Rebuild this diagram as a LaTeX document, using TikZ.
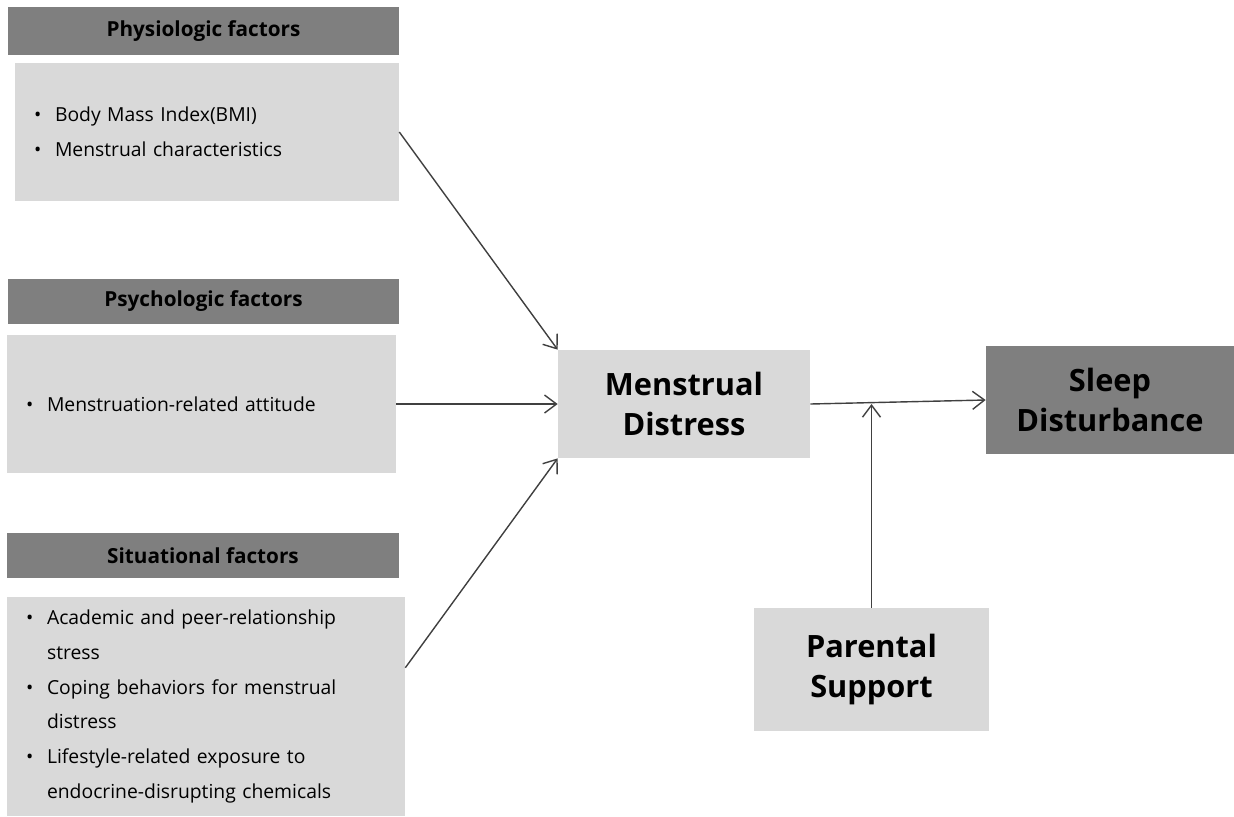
\documentclass[tikz,border=0pt]{standalone}
\usepackage{fontspec}
\setmainfont{Open Sans}
\usetikzlibrary{arrows.meta}
\definecolor{boxdark}{HTML}{7F7F7F}
\definecolor{boxlight}{HTML}{D9D9D9}
\definecolor{linegray}{HTML}{404040}
\newcommand{\bul}{\makebox[0.42cm][l]{\textbullet}}
\begin{document}
\begin{tikzpicture}[x=0.02cm, y=-0.02cm,
    head/.style = {fill=boxdark, font=\bfseries\fontsize{11.8}{14}\selectfont, minimum height=0.9cm},
    items/.style = {fill=boxlight, align=left, inner xsep=0.38cm, font=\fontsize{11}{19.8}\selectfont},
    main/.style = {fill=boxlight, align=center, font=\bfseries\fontsize{17.5}{22.7}\selectfont},
    arr/.style = {draw=linegray, line width=0.8pt, -{Straight Barb[length=2.4mm, width=3.6mm]}}]
    \useasboundingbox (0,0) rectangle (1234,816);

    % factor boxes
    \node[head, minimum width=7.82cm, minimum height=0.96cm] (phys) at (203.5, 31) {Physiologic factors};
    \node[items, text width=6.92cm, minimum height=2.76cm] (physbody) at (207, 132)
        {\bul Body Mass Index(BMI)\\ \bul Menstrual characteristics};

    \node[head, minimum width=7.82cm] (psy) at (203.5, 301.5) {Psychologic factors};
    \node[items, text width=7.02cm, minimum height=2.76cm] (psybody) at (201.5, 404)
        {\bul Menstruation-related attitude};

    \node[head, minimum width=7.84cm] (sit) at (203, 555.5) {Situational factors};
    \node[items, text width=7.2cm, minimum height=4.38cm] (sitbody) at (206, 706.5)
        {\bul Academic and peer-relationship\\ \hspace*{0.42cm}stress\\
         \bul Coping behaviors for menstrual\\ \hspace*{0.42cm}distress\\
         \bul Lifestyle-related exposure to\\ \hspace*{0.42cm}endocrine-disrupting chemicals};

    % main variables
    \node[main, minimum width=5.04cm, minimum height=2.16cm] (md) at (684, 404) {Menstrual\\Distress};
    \node[main, fill=boxdark, minimum width=4.96cm, minimum height=2.16cm] (sd) at (1110, 400) {Sleep\\Disturbance};
    \node[main, minimum width=4.7cm, minimum height=2.46cm] (ps) at (871.5, 669.5) {Parental\\Support};

    \draw[arr] (physbody.east) -- (md.north west);
    \draw[arr] (psybody.east) -- (md.west);
    \draw[arr] (sitbody.11) -- (md.south west);
    \draw[arr] (md.east) -- (sd.west);
    \draw[arr] (ps.north) -- (ps.north |- md.east);

\end{tikzpicture}
\end{document}
